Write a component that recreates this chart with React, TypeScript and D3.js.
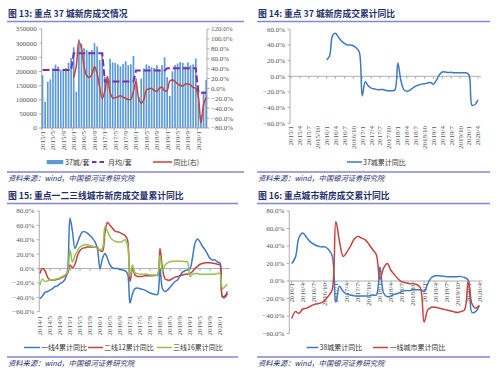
import * as d3 from "d3";

// ---- 图13: 37城月度成交 (2015/1 - 2020/4)
const sales37 = [
  187000, 93000, 164000, 172000, 211000, 224000, 217000, 205000, 205000, 212000, 231000, 247000,
  285000, 128000, 313000, 298000, 282000, 276000, 270000, 276000, 300000, 288000, 240000, 266000,
  181000, 165000, 245000, 232000, 230000, 225000, 218000, 226000, 236000, 222000, 225000, 255000,
  176000, 110000, 175000, 210000, 225000, 220000, 215000, 212000, 222000, 208000, 222000, 250000,
  180000, 113000, 200000, 223000, 228000, 233000, 230000, 218000, 232000, 222000, 225000, 246000,
  150000, 45000, 130000, 170000,
];
const yearAvg37 = [205000, 264000, 164000, 203000, 211000, 125000];
// 同比(右), from 2016/1
const yoy37 = [
  22, 45, 95, 80, 44, 26, 22, 28, 44, 30, 2, -20,
  -5, 24, -8, -19, -19, -17, -15, -18, -20, -23, -22, -6,
  14, -20, -30, -23, -3, -1, 0, -4, -6, 0, 3, -5,
  -4, 15, 17, 14, 9, 6, 5, 9, 9, 7, 2, 0,
  -18, -70, -33, -18,
];
const ticks13 = ["2015/1", "2015/5", "2015/9", "2016/1", "2016/5", "2016/9", "2017/1", "2017/5", "2017/9",
  "2018/1", "2018/5", "2018/9", "2019/1", "2019/5", "2019/9", "2020/1"];

// ---- 图14: 37城累计同比 (axis 2015/1 - 2020/4, data from 2016/1)
const cum37 = [
  21, 26, 52, 55, 50, 45, 42, 40, 40, 39, 36, 31,
  -25, -7, -12, -15, -16, -17, -17, -17, -18, -18.5, -18.5, -17.5,
  17, -5, -17, -19, -18, -15, -12.5, -11, -10, -9.5, -8.5, -8,
  -10, -5, 2, 5.5, 5.5, 5, 5, 4.5, 4.5, 4.5, 4.5, 4.5,
  1.5, -37, -36, -30,
];
const ticks14 = ["2015/1", "2015/4", "2015/7", "2015/10", "2016/1", "2016/4", "2016/7", "2016/10",
  "2017/1", "2017/4", "2017/7", "2017/10", "2018/1", "2018/4", "2018/7", "2018/10",
  "2019/1", "2019/4", "2019/7", "2019/10", "2020/1", "2020/4"];

// ---- 图15: 一二三线累计同比 (2014/1 - 2020/4)
const tier1 = [
  -42, -38, -33, -32, -30, -28, -25, -24, -21, -19, -15, -3,
  70, 51, 28, 36, 45, 51, 51, 49, 46, 42, 37, 27,
  0, 14, 21, 14, 5, 1, 0, 0, -1, -2, -3, -7,
  -48, -35, -28, -27, -28, -29, -30, -32, -34, -35, -36, -36,
  0, -28, -32, -30, -26, -22, -18, -16, -10, -5, -3, -2,
  0, 15, 35, 41, 37, 31, 26, 20, 14, 12, 12, 9,
  8, -40, -40, -35,
];
const tier2 = [
  -7, 0, -3, -12, -16, -16, -16, -15, -14, -12, -10, -7,
  5, 1, 6, 18, 25, 28, 29, 30, 30, 30, 30, 29,
  25, 24, 50, 64, 60, 56, 52, 51, 50, 48, 46, 40,
  -18, 0, -9, -11, -11, -11, -10, -10, -10, -10, -9.5, -9.5,
  28, 0, -14, -16, -16, -14, -12, -11, -10, -9, -8, -8,
  -7, -4, 0, 3, 6, 7, 8, 8, 8, 7.5, 7, 6,
  5, -39, -38, -32,
];
const tier3 = [
  -23, -15, -18, -17, -16, -16, -15, -14, -13, -11, -9, -5,
  26, 9, 18, 25, 30, 32, 33, 33, 32, 31, 30, 28,
  26, 28, 58, 52, 44, 40, 38, 37, 37, 38, 40, 33,
  -11, 5, -6, -7, -8, -8, -8, -8, -9, -9, -9, -9,
  18, -4, 5, 8, 9.5, 10, 10, 10, 10, 10, 9.5, 9.5,
  -11, -8, -7, -7, -8, -8, -8, -8, -8, -8, -7.5, -7,
  -7, -28, -25, -22,
];
const ticks15 = ["2014/1", "2014/5", "2014/9", "2015/1", "2015/5", "2015/9", "2016/1", "2016/5", "2016/9",
  "2017/1", "2017/5", "2017/9", "2018/1", "2018/5", "2018/9", "2019/1", "2019/5", "2019/9", "2020/1"];

// ---- 图16: 38城 vs 一线城市累计同比 (2016/1 - 2020/4)
const cum38 = [
  20, 27, 50, 55, 50, 45, 42, 40, 39, 39, 36, 29,
  -24, -6, -12, -15, -16, -17, -17, -17, -17, -17, -16, -16,
  16, -14, -18, -17, -15, -14, -12, -11, -11, -10, -10, -10,
  -12, -3, 4, 6, 6, 5.5, 5, 5, 5, 5, 5, 4,
  1, -36, -35, -28,
];
const tier1Cum = [
  -43, -35, -37, -32, -31, -29, -27, -26, -25, -22, -17, -10,
  68, 45, 28, 33, 40, 48, 51, 49, 47, 42, 36, 30,
  2, 15, 20, 12, 7, 2, -1, -2, -3, -3, -4, -8,
  -47, -33, -30, -30, -31, -32, -33, -34, -35, -36, -35, -33,
  0, -26, -31, -28,
];
const ticks16 = ["2016/1", "2016/4", "2016/7", "2016/10", "2017/1", "2017/4", "2017/7", "2017/10",
  "2018/1", "2018/4", "2018/7", "2018/10", "2019/1", "2019/4", "2019/7", "2019/10", "2020/1", "2020/4"];

const NAVY = "#1f2f6e";
const RULE = "#8585d6";
const AXIS = "#9a9a9a";
const BAR = "#5c9ad8";
const BLUE = "#3f78c2";
const RED = "#c8413c";
const GREEN = "#92c353";
const PURPLE = "#7a2fb0";
const NUM = "'Liberation Serif', 'DejaVu Serif', serif";
const CJK = "'Noto Sans CJK SC', 'Noto Sans', sans-serif";

const pct = (v: number) => d3.format(".1f")(v) + "%";
const smooth = d3.curveCatmullRom.alpha(0.5);

function Frame({ x0, x1, title, top }: { x0: number; x1: number; title: string; top: number }) {
  // top = y of title rule; footer rule / source placed relative to panel bottom
  const foot = top === 21.5 ? 172 : 357;
  return (
    <g>
      <text x={x0 + 1} y={top - 4.5} fontFamily={CJK} fontWeight="bold" fontSize={8.8} fill={NAVY}>{title}</text>
      <line x1={x0} x2={x1} y1={top} y2={top} stroke={RULE} strokeWidth={1.4} />
      <line x1={x0} x2={x1} y1={foot} y2={foot} stroke={RULE} strokeWidth={1.4} />
      <text x={x0 + 1} y={foot + 9} fontFamily={CJK} fontStyle="italic" fontSize={7.3} fill={NAVY}>资料来源：wind，中国银河证券研究院</text>
    </g>
  );
}

function LeftAxis({ y, ticks, x, fmt }: { y: d3.ScaleLinear<number, number>; ticks: number[]; x: number; fmt: (v: number) => string }) {
  const [a, b] = y.range();
  return (
    <g>
      <line x1={x} x2={x} y1={a} y2={b} stroke={AXIS} strokeWidth={0.8} />
      {ticks.map((t) => (
        <g key={t}>
          <line x1={x - 2.5} x2={x} y1={y(t)} y2={y(t)} stroke={AXIS} strokeWidth={0.8} />
          <text x={x - 5} y={y(t)} dy="0.35em" textAnchor="end" fontFamily={NUM} fontSize={7} fill="#555">{fmt(t)}</text>
        </g>
      ))}
    </g>
  );
}

function VLabels({ labels, xs, y }: { labels: string[]; xs: number[]; y: number }) {
  return (
    <g>
      {labels.map((l, i) => (
        <text key={l} transform={`translate(${xs[i] + 2.4},${y}) rotate(-90)`} textAnchor="end"
          fontFamily={NUM} fontSize={7} fill="#555">{l}</text>
      ))}
    </g>
  );
}

function ZeroAxis({ x0, x1, y, xs }: { x0: number; x1: number; y: number; xs: number[] }) {
  return (
    <g>
      <line x1={x0} x2={x1} y1={y} y2={y} stroke={AXIS} strokeWidth={0.8} />
      {xs.map((x, i) => <line key={i} x1={x} x2={x} y1={y} y2={y + 2.5} stroke={AXIS} strokeWidth={0.8} />)}
    </g>
  );
}

function Chart13() {
  const x = d3.scaleBand<number>().domain(d3.range(sales37.length)).range([41.7, 207]).paddingInner(0.35);
  const yL = d3.scaleLinear().domain([0, 350000]).range([128, 29]);
  const yR = d3.scaleLinear().domain([-80, 120]).range([128, 29]);
  const cx = (i: number) => (x(i) as number) + x.bandwidth() / 2;
  const avg = sales37.map((_, i) => yearAvg37[Math.floor(i / 12)]);
  const avgPath = d3.line<number>().x((_, i) => cx(i)).y((d) => yL(d))(avg) as string;
  const yoyPath = d3.line<number>().x((_, i) => cx(i + 12)).y((d) => yR(d)).curve(smooth)(yoy37) as string;
  const tickIdx = ticks13.map((_, i) => i * 4);
  return (
    <g>
      {sales37.map((v, i) => (
        <rect key={i} x={x(i)} y={yL(v)} width={x.bandwidth()} height={128 - yL(v)} fill={BAR} />
      ))}
      <path d={avgPath} fill="none" stroke={PURPLE} strokeWidth={2} strokeDasharray="7,3" />
      <path d={yoyPath} fill="none" stroke={RED} strokeWidth={1.5} />
      <LeftAxis y={yL} ticks={d3.range(0, 350001, 50000)} x={41.7} fmt={(v) => String(v)} />
      <line x1={207} x2={207} y1={29} y2={128} stroke={AXIS} strokeWidth={0.8} />
      {d3.range(-80, 121, 20).map((t) => (
        <g key={t}>
          <line x1={207} x2={209.5} y1={yR(t)} y2={yR(t)} stroke={AXIS} strokeWidth={0.8} />
          <text x={211} y={yR(t)} dy="0.35em" fontFamily={NUM} fontSize={7} fill="#555">{pct(t)}</text>
        </g>
      ))}
      <line x1={41.7} x2={207} y1={128} y2={128} stroke={AXIS} strokeWidth={0.8} />
      {tickIdx.map((k) => <line key={k} x1={x(k)} x2={x(k)} y1={128} y2={130.5} stroke={AXIS} strokeWidth={0.8} />)}
      <VLabels labels={ticks13} xs={tickIdx.map(cx)} y={131} />
      {/* legend */}
      <rect x={46.7} y={160} width={16.6} height={4.2} fill={BAR} />
      <text x={65} y={164.6} fontFamily={CJK} fontSize={7} fill="#333">37城/套</text>
      <line x1={92} x2={104} y1={162} y2={162} stroke={PURPLE} strokeWidth={2} strokeDasharray="4.5,3" />
      <text x={108} y={164.6} fontFamily={CJK} fontSize={7} fill="#333">月均/套</text>
      <line x1={153} x2={172} y1={162} y2={162} stroke={RED} strokeWidth={1.5} />
      <text x={173.5} y={164.6} fontFamily={CJK} fontSize={7} fill="#333">同比(右)</text>
    </g>
  );
}

function Chart14() {
  const x = d3.scaleLinear().domain([0, 63]).range([291, 478]);
  const y = d3.scaleLinear().domain([-60, 60]).range([123.3, 29.3]);
  const path = d3.line<number>().x((_, i) => x(i + 12)).y((d) => y(d)).curve(smooth)(cum37) as string;
  const xs = ticks14.map((_, i) => x(i * 3));
  return (
    <g>
      <LeftAxis y={y} ticks={d3.range(-60, 61, 20)} x={290} fmt={pct} />
      <ZeroAxis x0={290} x1={481} y={y(0)} xs={xs} />
      <path d={path} fill="none" stroke={BLUE} strokeWidth={1.5} />
      <VLabels labels={ticks14} xs={xs} y={126} />
      <line x1={347} x2={362} y1={162} y2={162} stroke={BLUE} strokeWidth={1.5} />
      <text x={363} y={164.6} fontFamily={CJK} fontSize={7} fill="#333">37城累计同比</text>
    </g>
  );
}

function Chart15() {
  const x = d3.scaleLinear().domain([0, 75]).range([40, 227.5]);
  const y = d3.scaleLinear().domain([-60, 80]).range([311.7, 211]);
  const line = d3.line<number>().x((_, i) => x(i)).y((d) => y(d)).curve(smooth);
  const xs = ticks15.map((_, i) => x(i * 4));
  const series = [
    { data: tier1, color: BLUE },
    { data: tier2, color: RED },
    { data: tier3, color: GREEN },
  ];
  return (
    <g>
      <LeftAxis y={y} ticks={d3.range(-60, 81, 20)} x={39.3} fmt={pct} />
      <ZeroAxis x0={39.3} x1={230} y={y(0)} xs={xs} />
      {series.map((s) => <path key={s.color} d={line(s.data) as string} fill="none" stroke={s.color} strokeWidth={1.5} />)}
      <VLabels labels={ticks15} xs={xs} y={316} />
      <line x1={24} x2={40} y1={347.5} y2={347.5} stroke={BLUE} strokeWidth={1.5} />
      <text x={41} y={350} fontFamily={CJK} fontSize={7} fill="#333">一线4累计同比</text>
      <line x1={88} x2={103} y1={347.5} y2={347.5} stroke={RED} strokeWidth={1.5} />
      <text x={104} y={350} fontFamily={CJK} fontSize={7} fill="#333">二线12累计同比</text>
      <line x1={157} x2={172} y1={347.5} y2={347.5} stroke={GREEN} strokeWidth={1.5} />
      <text x={173} y={350} fontFamily={CJK} fontSize={7} fill="#333">三线16累计同比</text>
    </g>
  );
}

function Chart16() {
  const x = d3.scaleLinear().domain([0, 51]).range([291.7, 479.3]);
  const y = d3.scaleLinear().domain([-60, 80]).range([333.5, 211]);
  const line = d3.line<number>().x((_, i) => x(i)).y((d) => y(d)).curve(smooth);
  const xs = ticks16.map((_, i) => x(i * 3));
  return (
    <g>
      <LeftAxis y={y} ticks={d3.range(-60, 81, 20)} x={289.3} fmt={pct} />
      <ZeroAxis x0={289.3} x1={482} y={y(0)} xs={xs} />
      <VLabels labels={ticks16} xs={xs} y={283} />
      <path d={line(cum38) as string} fill="none" stroke={BLUE} strokeWidth={1.5} />
      <path d={line(tier1Cum) as string} fill="none" stroke={RED} strokeWidth={1.5} />
      <line x1={306.7} x2={318.3} y1={347.5} y2={347.5} stroke={BLUE} strokeWidth={1.5} />
      <text x={319.5} y={350} fontFamily={CJK} fontSize={7} fill="#333">38城累计同比</text>
      <line x1={373} x2={388} y1={347.5} y2={347.5} stroke={RED} strokeWidth={1.5} />
      <text x={389.5} y={350} fontFamily={CJK} fontSize={7} fill="#333">一线城市累计同比</text>
    </g>
  );
}

export default function App() {
  return (
    <div style={{ position: "absolute", left: 0, top: 0 }}>
      <svg width={500} height={374} style={{ display: "block", background: "#fff" }}>
        <Frame x0={7} x1={244} title="图 13:  重点 37 城新房成交情况" top={21.5} />
        <Frame x0={257} x1={490} title="图 14:  重点 37 城新房成交累计同比" top={21.5} />
        <Frame x0={7} x1={238} title="图 15:  重点一二三线城市新房成交量累计同比" top={203.5} />
        <Frame x0={257} x1={490} title="图 16:  重点城市新房成交累计同比" top={203.5} />
        <Chart13 />
        <Chart14 />
        <Chart15 />
        <Chart16 />
      </svg>
    </div>
  );
}
